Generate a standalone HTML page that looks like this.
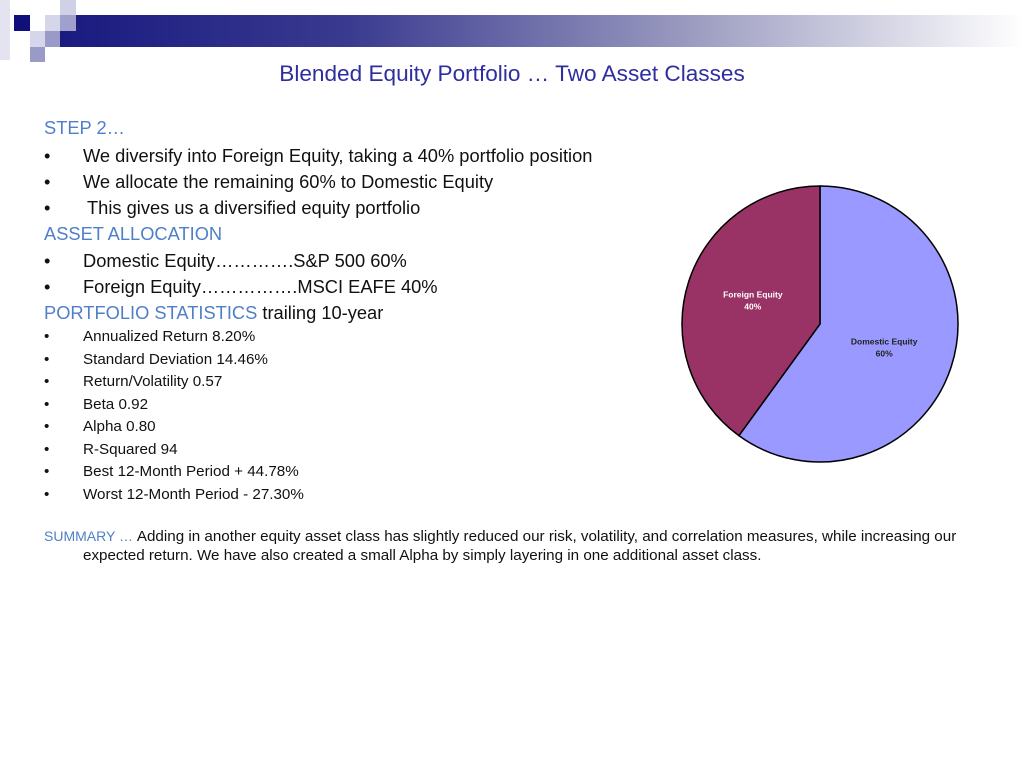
<!DOCTYPE html>
<html><head><meta charset="utf-8"><style>
body{margin:0;width:1024px;height:768px;background:#fff;position:relative;overflow:hidden;font-family:"Liberation Sans",sans-serif;}
.a{position:absolute;}
.t{position:absolute;left:44px;font-size:18.3px;color:#111;white-space:nowrap;}
.s{font-size:15.2px;}
.b{color:#4f7fc8;}
</style></head><body>
<div class="a" style="left:60px;top:15px;width:964px;height:32px;background:linear-gradient(90deg,#1a1a80 0%,#3a3a90 30%,#9a9ac0 65%,#fff 100%)"></div>
<div class="a" style="left:14px;top:15px;width:16px;height:16px;background:#10107a"></div>
<div class="a" style="left:0;top:0;width:10px;height:60px;background:#e4e4f0"></div>
<div class="a" style="left:45px;top:15px;width:15px;height:16px;background:#d6d6ea"></div>
<div class="a" style="left:60px;top:0;width:16px;height:15px;background:#d0d0e6"></div>
<div class="a" style="left:60px;top:15px;width:16px;height:16px;background:#a0a0cc"></div>
<div class="a" style="left:30px;top:31px;width:15px;height:16px;background:#d6d6ea"></div>
<div class="a" style="left:45px;top:31px;width:15px;height:16px;background:#9a9ac8"></div>
<div class="a" style="left:30px;top:47px;width:15px;height:15px;background:#9a9ac8"></div>
<div class="a" style="left:0;width:1024px;top:61px;text-align:center;font-size:22.6px;color:#2e2ea0">Blended Equity Portfolio … Two Asset Classes</div>

<div class="t b" style="top:117px">STEP 2…</div>
<div class="t" style="top:145px">•<span style="position:absolute;left:39px">We diversify into Foreign Equity, taking a 40% portfolio position</span></div>
<div class="t" style="top:171px">•<span style="position:absolute;left:39px">We allocate the remaining 60% to Domestic Equity</span></div>
<div class="t" style="top:197px">•<span style="position:absolute;left:43px">This gives us a diversified equity portfolio</span></div>
<div class="t b" style="top:223px">ASSET ALLOCATION</div>
<div class="t" style="top:250px">•<span style="position:absolute;left:39px">Domestic Equity………….S&amp;P 500 60%</span></div>
<div class="t" style="top:276px">•<span style="position:absolute;left:39px">Foreign Equity…………….MSCI EAFE 40%</span></div>
<div class="t" style="top:302px"><span class="b">PORTFOLIO STATISTICS</span> trailing 10-year</div>
<div class="t s" style="top:328px">•<span style="position:absolute;left:39px">Annualized Return 8.20%</span></div>
<div class="t s" style="top:351px">•<span style="position:absolute;left:39px">Standard Deviation 14.46%</span></div>
<div class="t s" style="top:373px">•<span style="position:absolute;left:39px">Return/Volatility 0.57</span></div>
<div class="t s" style="top:396px">•<span style="position:absolute;left:39px">Beta 0.92</span></div>
<div class="t s" style="top:418px">•<span style="position:absolute;left:39px">Alpha 0.80</span></div>
<div class="t s" style="top:441px">•<span style="position:absolute;left:39px">R-Squared 94</span></div>
<div class="t s" style="top:463px">•<span style="position:absolute;left:39px">Best 12-Month Period + 44.78%</span></div>
<div class="t s" style="top:486px">•<span style="position:absolute;left:39px">Worst 12-Month Period - 27.30%</span></div>
<div class="a" style="left:44px;top:527px;width:920px;font-size:15.2px;line-height:18.5px;color:#111;padding-left:39px;text-indent:-39px"><span style="color:#4f7fc8;font-size:14px">SUMMARY … </span>Adding in another equity asset class has slightly reduced our risk, volatility, and correlation measures, while increasing our expected return. We have also created a small Alpha by simply layering in one additional asset class.</div>

<svg class="a" style="left:0;top:0" width="1024" height="768">
<g id="pie"></g>
</svg>
<script>
const labels=["Domestic Equity","Foreign Equity"];
const values=[60,40];
const colors=["#9999ff","#993366"];
const textColors=["#222","#fff"];
const cx=820,cy=324,r=138;
const g=document.getElementById('pie');
const total=values.reduce((a,b)=>a+b,0);
let ang=0;
const ns="http://www.w3.org/2000/svg";
values.forEach((v,i)=>{
  const a0=ang, a1=ang+v/total*2*Math.PI; ang=a1;
  const p=a=>[cx+r*Math.sin(a),cy-r*Math.cos(a)];
  const [x0,y0]=p(a0),[x1,y1]=p(a1);
  const path=document.createElementNS(ns,'path');
  path.setAttribute('d',`M${cx},${cy}L${x0},${y0}A${r},${r} 0 ${a1-a0>Math.PI?1:0} 1 ${x1},${y1}Z`);
  path.setAttribute('fill',colors[i]);path.setAttribute('stroke','#000');path.setAttribute('stroke-width','1.5');
  
  
  g.appendChild(path);
  const mid=(a0+a1)/2, lr=r*0.55;
  const lx=cx+lr*Math.sin(mid)+(i===0?-8:5), ly=cy-lr*Math.cos(mid)-3;
  const t=document.createElementNS(ns,'text');
  t.setAttribute('x',lx);t.setAttribute('y',ly);
  t.setAttribute('text-anchor','middle');t.setAttribute('font-size','8.5');t.setAttribute('font-weight','bold');
  t.setAttribute('font-family','Liberation Sans, sans-serif');t.setAttribute('fill',textColors[i]);
  
  
  const s1=document.createElementNS(ns,'tspan');s1.setAttribute('x',lx);s1.textContent=labels[i];
  const s2=document.createElementNS(ns,'tspan');s2.setAttribute('x',lx);s2.setAttribute('dy','12');s2.textContent=v+'%';
  t.appendChild(s1);t.appendChild(s2);g.appendChild(t);
});
</script>
</body></html>
